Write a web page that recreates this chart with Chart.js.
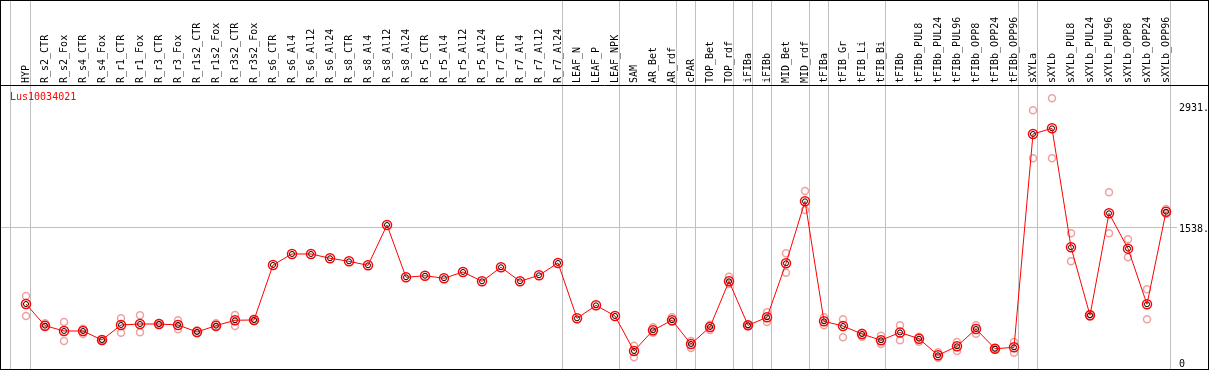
<!DOCTYPE html>
<html>
<head>
<meta charset="utf-8">
<script src="https://cdn.jsdelivr.net/npm/chart.js@4.4.0/dist/chart.umd.min.js"></script>
<style>
  html, body { margin: 0; padding: 0; background: #fff; }
  #wrap { position: relative; width: 1207px; height: 368px; border: 1px solid #000; }
</style>
</head>
<body>
<div id="wrap"><canvas id="geneChart" width="1207" height="368"></canvas></div>
<script>
const geneName = 'Lus10034021';

const categories = [
  'HYP', 'R_s2_CTR', 'R_s2_Fox', 'R_s4_CTR', 'R_s4_Fox', 'R_r1_CTR', 'R_r1_Fox',
  'R_r3_CTR', 'R_r3_Fox', 'R_r1s2_CTR', 'R_r1s2_Fox', 'R_r3s2_CTR', 'R_r3s2_Fox',
  'R_s6_CTR', 'R_s6_Al4', 'R_s6_Al12', 'R_s6_Al24', 'R_s8_CTR', 'R_s8_Al4', 'R_s8_Al12',
  'R_s8_Al24', 'R_r5_CTR', 'R_r5_Al4', 'R_r5_Al12', 'R_r5_Al24', 'R_r7_CTR', 'R_r7_Al4',
  'R_r7_Al12', 'R_r7_Al24', 'LEAF_N', 'LEAF_P', 'LEAF_NPK', 'SAM', 'AR_Bet', 'AR_rdf',
  'cPAR', 'TOP_Bet', 'TOP_rdf', 'iFIBa', 'iFIBb', 'MID_Bet', 'MID_rdf', 'tFIBa',
  'tFIB_Gr', 'tFIB_Li', 'tFIB_Bi', 'tFIBb', 'tFIBb_PUL8', 'tFIBb_PUL24', 'tFIBb_PUL96',
  'tFIBb_OPP8', 'tFIBb_OPP24', 'tFIBb_OPP96', 'sXYLa', 'sXYLb', 'sXYLb_PUL8',
  'sXYLb_PUL24', 'sXYLb_PUL96', 'sXYLb_OPP8', 'sXYLb_OPP24', 'sXYLb_OPP96'
];

// mean expression per sample
const meanValues = [
  664, 416, 355, 355, 252, 424, 435, 435, 424, 344, 416, 478, 481,
  1111, 1237, 1237, 1188, 1153, 1107, 1569, 970, 988, 959, 1031, 924,
  1085, 924, 993, 1134, 500, 649, 527, 126, 363, 478, 206, 401, 924,
  420, 512, 1130, 1840, 466, 412, 321, 249, 338, 267, 77, 180, 378,
  152, 168, 2611, 2676, 1314, 535, 1703, 1298, 661, 1721
];

// replicates (null = not shown)
const repHigh = [
  756, 443, 458, 381, 260, 500, 535, 447, 478, 363, 443, 538, 492,
  null, null, null, null, null, null, null, null, null, null, null, null,
  null, null, null, null, null, null, null, 187, 397, 512, 240, 427, 977,
  429, 569, 1245, 1958, 512, 489, 336, 301, 421, 290, 111, 229, 420,
  160, 229, 2882, 3020, 1474, 550, 1943, 1405, 833, 1752
];
const repLow = [
  527, 397, 240, 321, 244, 336, 340, 424, 374, 329, 397, 412, 470,
  null, null, null, null, null, null, null, null, null, null, null, null,
  null, null, null, null, null, null, null, 54, 336, 462, 160, 366, 893,
  412, 458, 1023, 1741, 420, 283, 290, 206, 250, 232, 49, 126, 324,
  143, 107, 2333, 2333, 1153, 521, 1474, 1199, 489, 1695
];

// group separators (between samples)
const separators = [-0.8, 0.24, 28.24, 31.24, 34.24, 35.24, 37.24, 38.24, 39.24,
  41.24, 42.24, 45.24, 52.24, 53.24, 60.24];
const yTicks = [0, 1538, 2931];

const monoFont = { family: '"DejaVu Sans Mono", monospace', size: 10 };

const meanPoints = meanValues.map((v, i) => ({ x: i, y: v }));
const repPoints = [];
repHigh.forEach((v, i) => { if (v !== null) repPoints.push({ x: i, y: v }); });
repLow.forEach((v, i) => { if (v !== null) repPoints.push({ x: i, y: v }); });

const framePlugin = {
  id: 'frame',
  afterDraw(chart) {
    const ctx = chart.ctx;
    const top = chart.chartArea.top;
    ctx.save();
    ctx.strokeStyle = '#000';
    ctx.lineWidth = 1;
    ctx.beginPath();
    ctx.moveTo(0, top + 0.5);
    ctx.lineTo(chart.width, top + 0.5);
    ctx.stroke();
    ctx.fillStyle = '#ff0000';
    ctx.font = '10px "DejaVu Sans Mono", monospace';
    ctx.textBaseline = 'alphabetic';
    ctx.fillText(geneName, 9, top + 15);
    ctx.restore();
  }
};

new Chart(document.getElementById('geneChart'), {
  type: 'line',
  data: {
    datasets: [
      {
        data: meanPoints,
        borderColor: '#ff0000',
        borderWidth: 1,
        tension: 0,
        pointStyle: 'circle',
        pointRadius: 4.5,
        pointBorderWidth: 1.5,
        pointBorderColor: '#ff0000',
        pointBackgroundColor: 'rgba(0,0,0,0)',
        order: 1
      },
      {
        data: meanPoints,
        showLine: false,
        pointRadius: 2.5,
        pointBorderWidth: 1,
        pointBorderColor: '#000000',
        pointBackgroundColor: 'rgba(0,0,0,0)',
        order: 2
      },
      {
        data: repPoints,
        showLine: false,
        pointRadius: 3.5,
        pointBorderWidth: 1.5,
        pointBorderColor: 'rgba(232,120,120,0.7)',
        pointBackgroundColor: 'rgba(0,0,0,0)',
        order: 3
      }
    ]
  },
  options: {
    responsive: false,
    animation: false,
    devicePixelRatio: 1,
    layout: { padding: 0, autoPadding: false },
    plugins: { legend: { display: false }, tooltip: { enabled: false } },
    scales: {
      x: {
        type: 'linear',
        position: 'top',
        min: -25 / 19,
        max: (1176 - 25) / 19,
        afterBuildTicks: (scale) => {
          const vals = categories.map((_, i) => i).concat(separators).sort((a, b) => a - b);
          scale.ticks = vals.map(v => ({ value: v }));
        },
        afterFit: (scale) => {
          scale.height = 84;
          scale.paddingLeft = 0;
          scale.paddingRight = 0;
        },
        border: { display: false },
        grid: {
          color: (c) => (c.tick && Number.isInteger(c.tick.value)) ? 'rgba(0,0,0,0)' : '#c0c0c0',
          lineWidth: 1,
          tickLength: 84
        },
        ticks: {
          autoSkip: false,
          maxRotation: 90,
          minRotation: 90,
          padding: -82,
          labelOffset: 12.7,
          color: '#000',
          font: monoFont,
          callback: (v) => Number.isInteger(v) ? categories[v] : ''
        }
      },
      y: {
        type: 'linear',
        position: 'right',
        min: -80.2,
        max: 3172.2,
        afterBuildTicks: (scale) => { scale.ticks = yTicks.map(v => ({ value: v })); },
        afterFit: (scale) => {
          scale.width = 31;
          scale.paddingTop = 0;
          scale.paddingBottom = 0;
        },
        border: { display: false },
        grid: {
          color: (c) => (c.tick && c.tick.value === 1538) ? '#c0c0c0' : 'rgba(0,0,0,0)',
          drawTicks: false
        },
        ticks: {
          padding: 2,
          labelOffset: 2,
          color: '#000',
          font: monoFont,
          callback: (v) => v === 0 ? '0' : v + '.'
        }
      }
    }
  },
  plugins: [framePlugin]
});
</script>
</body>
</html>
